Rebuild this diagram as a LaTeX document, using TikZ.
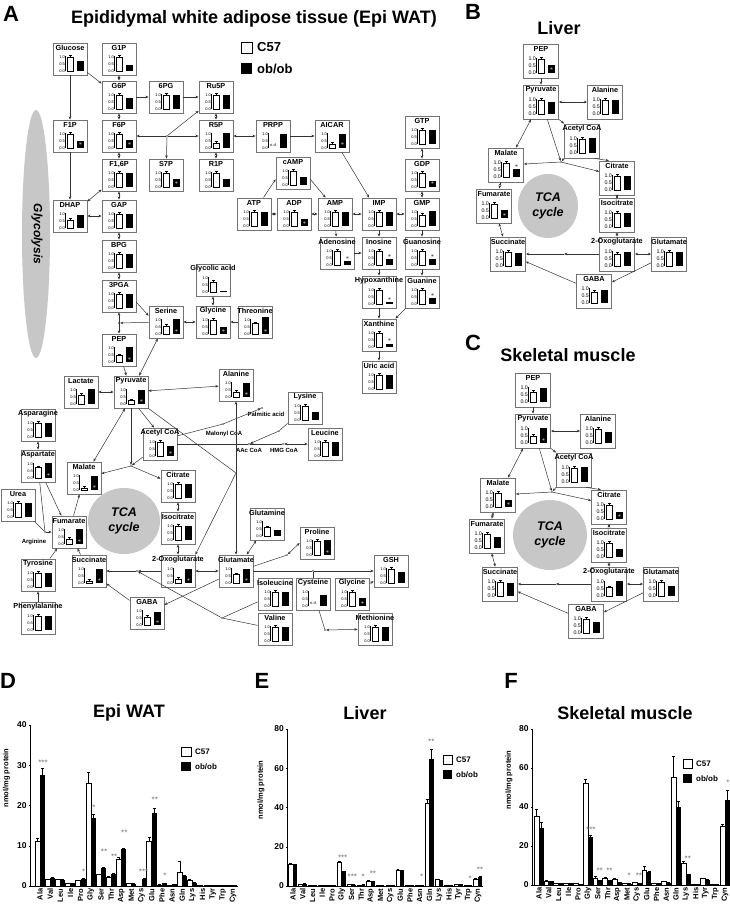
\documentclass[tikz,border=0pt]{standalone}
\usepackage{fontspec}
\setmainfont{Liberation Sans}
\usetikzlibrary{arrows.meta}

\newcommand{\tkfont}{\fontsize{4}{4}\selectfont}
% metabolite box with its small bar chart
\newcommand{\met}[7]{%
  \node[metbox] (#1) at (#2,#3) {};
  \node[metlbl] (#1l) at ([yshift=-5.5pt]#1.north) {#4};
  \begin{scope}[shift={(#1.center)}]
    \draw[axl] (-4.5,12) -- (-4.5,-3);
    \node[tk] at (-4.5,12) {0.0};
    \node[tk] at (-4.5,5) {0.5};
    \node[tk] at (-4.5,-2) {1.0};
    \ifnum#7=2\relax
      \node[tk,anchor=center] at (0.5,9.5) {n.d.};
    \else
      \draw[wbar] (-3,12) rectangle (3.5,{12-14*#5});
      \draw[axl] (0.25,{12-14*#5}) -- (0.25,{10.3-14*#5}) (-1.2,{10.3-14*#5}) -- (1.7,{10.3-14*#5});
    \fi
    \fill (7,12) rectangle (14,{12-14*#6});
    \ifnum#7=1\relax \node[wstar] at (10.5,8.6) {$\ast$};\fi
    \ifnum#7=3\relax \node[bstar] at (10.5,{9-14*#6}) {$\ast$};\fi
  \end{scope}%
}

\begin{document}
\begin{tikzpicture}[
  x=1pt, y=-1pt,
  >={Stealth[length=3.2pt,width=2.6pt]},
  metbox/.style={draw=black!55, line width=0.8pt, fill=white, minimum width=34pt, minimum height=32pt, inner sep=0pt},
  metlbl/.style={font=\bfseries\fontsize{7.3}{8}\selectfont, inner sep=0pt},
  tk/.style={font=\tkfont, inner sep=0.4pt, anchor=east},
  axl/.style={line width=0.4pt},
  wbar/.style={draw, fill=white, line width=0.6pt},
  wstar/.style={font=\fontsize{6}{6}\selectfont, text=white, inner sep=0pt},
  bstar/.style={font=\fontsize{6}{6}\selectfont, inner sep=0pt},
  link/.style={line width=0.5pt, black!80},
  ar/.style={link, ->},
  arb/.style={link, <->},
  jdot/.style={circle, fill=black!80, inner sep=0pt, minimum size=1.8pt},
  small/.style={font=\bfseries\fontsize{6}{7}\selectfont, inner sep=0.5pt},
  plet/.style={font=\bfseries\fontsize{22}{22}\selectfont, inner sep=0pt},
  ttl/.style={font=\bfseries\fontsize{18}{20}\selectfont, inner sep=0pt},
  tca/.style={font=\bfseries\itshape\fontsize{12.5}{15}\selectfont, align=center, inner sep=0pt},
  cat/.style={rotate=90, anchor=east, font=\bfseries\fontsize{7.5}{8}\selectfont, inner sep=1pt},
  ytk/.style={left, font=\bfseries\fontsize{8.5}{9}\selectfont, inner sep=2pt},
  ylab/.style={rotate=90, font=\bfseries\fontsize{7.5}{8}\selectfont, inner sep=0pt},
  stars/.style={font=\fontsize{8}{8}\selectfont, text=black!55, inner sep=0pt},
  legs/.style={right, font=\bfseries\fontsize{8}{9}\selectfont, inner sep=1pt}
]
\useasboundingbox (0,0) rectangle (730,908);

%% ---------------- A: Epi WAT map ----------------
\node[plet] (letA) at (11,14) {A};
\node[ttl] (ttlA) at (254,19) {Epididymal white adipose tissue (Epi WAT)};
\draw[wbar] (241,42) rectangle (252,53);
\fill (241,63) rectangle (252,74);
\node[right, font=\bfseries\fontsize{13}{14}\selectfont, inner sep=1pt] (legw) at (256,47.5) {C57};
\node[right, font=\bfseries\fontsize{13}{14}\selectfont, inner sep=1pt] (legb) at (256,68.5) {ob/ob};

\fill[black!22] (36,234) ellipse [x radius=14, y radius=124];
\node[rotate=-90, font=\bfseries\itshape\fontsize{12}{12}\selectfont] (glys) at (37,234) {Glycolysis};
\fill[black!22] (124,521) ellipse [x radius=36, y radius=33];
\node[tca] (tcaA) at (124,521) {TCA\\cycle};

\met{gluc}{70}{59}{Glucose}{1}{0.75}{0}
\met{gonep}{119}{59}{G1P}{1}{0.4}{0}
\met{gsixp}{119}{97}{G6P}{1}{0.8}{0}
\met{sixpg}{166}{97}{6PG}{1}{1}{0}
\met{ruvp}{216}{97}{Ru5P}{1}{1}{0}
\met{fonep}{70}{136}{F1P}{1}{0.5}{1}
\met{fsixp}{119}{136}{F6P}{1}{0.55}{1}
\met{rvp}{216}{136}{R5P}{0.35}{1.05}{0}
\met{prpp}{273}{136}{PRPP}{0}{1}{2}
\met{aicar}{332}{136}{AICAR}{0.3}{1}{1}
\met{fbp}{119}{175}{F1,6P}{1}{1}{0}
\met{sseven}{166}{175}{S7P}{1}{0.6}{1}
\met{ronep}{216}{175}{R1P}{1}{0.6}{0}
\met{gtp}{422}{132}{GTP}{1}{1}{0}
\met{camp}{293}{173}{cAMP}{1}{0.55}{0}
\met{gdp}{422}{175}{GDP}{1}{0.45}{1}
\met{dhap}{70}{216}{DHAP}{0.55}{0.9}{0}
\met{gap}{119}{216}{GAP}{1}{1}{0}
\met{atp}{254}{214}{ATP}{1}{1}{0}
\met{adp}{294}{214}{ADP}{1}{0.5}{1}
\met{amp}{335}{214}{AMP}{1}{1}{0}
\met{imp}{379}{214}{IMP}{1}{1}{0}
\met{gmp}{422}{214}{GMP}{0.8}{1.05}{0}
\met{bpg}{119}{256}{BPG}{1}{1}{0}
\met{pga}{119}{296}{3PGA}{1}{1}{0}
\met{glyc}{213}{280}{Glycolic acid}{0.7}{0.05}{0}
\met{ser}{166}{322}{Serine}{0.55}{1.1}{1}
\met{gly}{213}{322}{Glycine}{1}{0.5}{1}
\met{thr}{255}{322}{Threonine}{0.75}{1.2}{1}
\met{pep}{119}{350}{PEP}{0.45}{1.1}{1}
\met{lac}{81}{392}{Lactate}{0.65}{1.1}{0}
\met{pyr}{131}{392}{Pyruvate}{0.25}{1}{1}
\met{ala}{236}{385}{Alanine}{0.35}{1}{1}
\met{asn}{38}{425}{Asparagine}{1}{1}{0}
\met{accoa}{160}{444}{Acetyl CoA}{1}{0.7}{1}
\met{ado}{337}{253}{Adenosine}{1}{0.3}{3}
\met{ino}{379}{253}{Inosine}{1}{0.45}{3}
\met{guo}{422}{253}{Guanosine}{1}{0.45}{3}
\met{hyp}{379}{292}{Hypoxanthine}{1}{0.15}{3}
\met{gua}{422}{292}{Guanine}{1}{0.4}{3}
\met{xan}{379}{335}{Xanthine}{1}{0.25}{3}
\met{uric}{379}{377}{Uric acid}{1}{1}{0}
\met{lys}{305}{408}{Lysine}{1}{0.55}{0}
\met{leu}{325}{444}{Leucine}{1}{1}{0}
\met{asp}{38}{466}{Aspartate}{0.75}{1.05}{1}
\met{mal}{84}{478}{Malate}{0.15}{1}{1}
\met{cit}{178}{486}{Citrate}{1}{1}{0}
\met{urea}{18}{505}{Urea}{1}{1}{0}
\met{fum}{69}{532}{Fumarate}{0.35}{1.05}{1}
\met{icit}{178}{528}{Isocitrate}{1}{1}{0}
\met{suc}{89}{571}{Succinate}{0.15}{1}{1}
\met{oxo}{178}{571}{2-Oxoglutarate}{0.3}{1}{1}
\met{glu}{236}{571}{Glutamate}{0.6}{1}{1}
\met{tyr}{38}{575}{Tyrosine}{1}{1}{0}
\met{gaba}{147}{613}{GABA}{0.55}{0.9}{1}
\met{phe}{38}{618}{Phenylalanine}{1}{1}{0}
\met{gln}{267}{524}{Glutamine}{0.6}{0.4}{0}
\met{pro}{317}{543}{Proline}{1}{1.1}{1}
\met{gsh}{391}{571}{GSH}{1}{0.8}{0}
\met{ile}{275}{594}{Isoleucine}{1}{1}{0}
\met{cys}{313}{594}{Cysteine}{0}{0.8}{2}
\met{glyb}{352}{594}{Glycine}{1}{0.6}{1}
\met{val}{275}{629}{Valine}{1}{1}{0}
\met{meth}{375}{629}{Methionine}{1}{1}{0}

% branch points
\node[jdot] (jppp) at (167,136) {};
\node[jdot] (jser) at (119,323) {};
\node[jdot] (jtca) at (131,466) {};
\node[jdot] (jala) at (236,473) {};
\node[jdot] (jsuc) at (137,571) {};
\node[jdot] (jbc) at (222,618) {};
\node[jdot] (jarg) at (45,532) {};
\node[jdot] (jmcoa) at (223,424) {};
\node[jdot] (jpal) at (262,408) {};
\node[jdot] (jlys) at (279,431) {};
\node[jdot] (jaac) at (249,444) {};
\node[jdot] (jhmg) at (283,444) {};
\node[jdot] (jpro) at (287,555) {};
\node[jdot] (jgsh) at (313,571) {};
\node[jdot] (jmet) at (325,630) {};

\node[small] (palm) at (266,414) {Palmitic acid};
\node[small] (malo) at (224,434) {Malonyl CoA};
\node[small] (aac) at (249,450) {AAc CoA};
\node[small] (hmg) at (284,450) {HMG CoA};
\node[small] (argi) at (34,542) {Arginine};

% glycolysis and pentose phosphates
\draw[ar] (gluc) -- (gsixp);
\draw[ar] (gluc) -- (fonep);
\draw[arb] (gonep) -- (gsixp);
\draw[ar] (gsixp) -- (sixpg);
\draw[ar] (sixpg) -- (ruvp);
\draw[arb] (gsixp) -- (fsixp);
\draw[arb] (ruvp) -- (rvp);
\draw[ar] (jppp) -- (fsixp);
\draw[ar] (jppp) -- (rvp);
\draw[ar] (jppp) -- (sseven);
\draw[ar] (jppp) -- (ruvp);
\draw[arb] (rvp) -- (ronep);
\draw[arb] (rvp) -- (prpp);
\draw[ar] (prpp) -- (aicar);
\draw[ar] (aicar) -- (imp);
\draw[arb] (fsixp) -- (fbp);
\draw[ar] (fonep) -- (dhap);
\draw[arb] (fbp) -- (dhap);
\draw[arb] (fbp) -- (gap);
\draw[arb] (dhap) -- (gap);
\draw[arb] (gap) -- (bpg);
\draw[arb] (bpg) -- (pga);
\draw[arb] (pga) -- (pep);
\draw[ar] (ser) -- (jser);
\draw[ar] (pga.-20) -- (ser.160);
\draw[ar] (pep) -- (pyr);
\draw[arb] (ser) -- (pyr);
\draw[arb] (ser) -- (gly);
\draw[ar] (thr) -- (gly);
\draw[arb] (glyc) -- (gly);
\draw[arb] (lac) -- (pyr);
\draw[arb] (pyr) -- (ala);

% nucleotides
\draw[ar] (atp.60) -- (camp.200);
\draw[ar] (camp.-20) -- (amp.120);
\draw[arb] (atp) -- (adp);
\draw[arb] (adp) -- (amp);
\draw[arb] (amp) -- (imp);
\draw[arb] (imp) -- (gmp);
\draw[arb] (gmp) -- (gdp);
\draw[arb] (gdp) -- (gtp);
\draw[ar] (amp) -- (ado);
\draw[ar] (imp) -- (ino);
\draw[ar] (gmp) -- (guo);
\draw[ar] (ado) -- (ino);
\draw[ar] (ino) -- (hyp);
\draw[ar] (guo) -- (gua);
\draw[ar] (hyp) -- (xan);
\draw[ar] (gua) -- (xan);
\draw[ar] (xan) -- (uric);

% TCA cycle and amino acids
\draw[ar] (pyr) -- (jtca);
\draw[ar] (accoa) -- (jtca);
\draw[ar] (jtca) -- (mal);
\draw[ar] (jtca) -- (cit);
\draw[arb] (pyr.250) -- (mal.60);
\draw[ar] (pyr.-65) -- (accoa.110);
\draw[link] (pyr.south east) -- (jala);
\draw[ar] (jala) -- (oxo.north east);
\draw[arb] (ala) -- (glu);
\draw[arb] (cit) -- (icit);
\draw[arb] (icit) -- (oxo);
\draw[ar] (oxo) -- (jsuc);
\draw[ar] (jsuc) -- (suc);
\draw[ar] (jbc) -- (jsuc);
\draw[link] (ile) -- (jbc);
\draw[link] (val) -- (jbc);
\draw[arb] (oxo) -- (glu);
\draw[ar] (glu) -- (gaba);
\draw[ar] (gaba) -- (suc);
\draw[ar] (suc) -- (fum);
\draw[ar] (fum) -- (mal);
\draw[ar] (asp) -- (fum);
\draw[arb] (asp) -- (asn);
\draw[link] (asp) -- (jarg);
\draw[link] (urea) -- (jarg);
\draw[ar] (jarg) -- (fum);
\draw[ar] (tyr) -- (fum);
\draw[ar] (phe) -- (tyr);
\draw[arb] (glu) -- (gln);
\draw[arb] (glu.15) -- (jpro) -- (pro.west);
\draw[ar] (glu) -- (jgsh) -- (gsh);
\draw[link] (cys) -- (jgsh);
\draw[ar] (glyb) -- (gsh);
\draw[arb] (cys.-70) -- (jmet) -- (meth);
\draw[link] (accoa.25) -- (jmcoa);
\draw[ar] (jmcoa) -- (jpal);
\draw[arb] (accoa) -- (jaac) -- (jhmg) -- (leu);
\draw[link] (lys) -- (jlys);
\draw[ar] (jlys) -- (jaac);

%% ---------------- B: Liver ----------------
\node[plet] (letB) at (473,12) {B};
\node[ttl] (ttlB) at (559,28) {Liver};
\fill[black!22] (548,206) ellipse [x radius=30, y radius=32];
\node[tca] (tcaB) at (548,206) {TCA\\cycle};
\begin{scope}[metbox/.append style={minimum width=35pt, minimum height=34pt}]
\def\tkfont{\fontsize{5.3}{5.3}\selectfont}
\met{bpep}{541}{61}{PEP}{1}{0.55}{1}
\met{bpyr}{541}{102}{Pyruvate}{1}{0.85}{0}
\met{bala}{605}{102}{Alanine}{1}{1}{0}
\met{bacc}{582}{141}{Acetyl CoA}{1}{1.1}{0}
\met{bmal}{506}{165}{Malate}{1}{0.55}{3}
\met{bcit}{617}{178}{Citrate}{1}{1}{0}
\met{bfum}{494}{206}{Fumarate}{1}{0.6}{1}
\met{bicit}{617}{215}{Isocitrate}{1}{1}{0}
\met{bsuc}{508}{254}{Succinate}{1}{0.9}{0}
\met{boxo}{617}{254}{2-Oxoglutarate}{0.85}{1}{0}
\met{bglu}{669}{254}{Glutamate}{1}{1}{0}
\met{bgaba}{594}{291}{GABA}{0.8}{0.9}{0}
\end{scope}
\node[jdot] (bj) at (561,162) {};
\coordinate (bjs) at (564,254);
\draw[ar] (bpep) -- (bpyr);
\draw[arb] (bpyr) -- (bala);
\draw[ar] (bpyr.south east) -- (bacc.north west);
\draw[arb] (bpyr.240) -- (bmal.60);
\draw[ar] (bpyr.-70) -- (bj);
\draw[ar] (bacc.south west) -- (bj);
\draw[ar] (bj) -- (bmal);
\draw[ar] (bj) -- (bcit.160);
\draw[ar] (bacc.-55) -- (bcit.115);
\draw[arb] (bcit) -- (bicit);
\draw[arb] (bicit) -- (boxo);
\draw[ar] (boxo) -- (bjs);
\draw[ar] (bjs) -- (bsuc);
\draw[arb] (boxo) -- (bglu);
\draw[ar] (bglu) -- (bgaba);
\draw[ar] (bgaba) -- (bsuc);
\draw[arb] (bsuc) -- (bfum);
\draw[arb] (bfum) -- (bmal);

%% ---------------- C: Skeletal muscle ----------------
\node[plet] (letC) at (473,343) {C};
\node[ttl] (ttlC) at (568,355) {Skeletal muscle};
\fill[black!22] (550,535) ellipse [x radius=37, y radius=35];
\node[tca] (tcaC) at (550,535) {TCA\\cycle};
\begin{scope}[metbox/.append style={minimum width=35pt, minimum height=34pt}]
\def\tkfont{\fontsize{5.3}{5.3}\selectfont}
\met{cpep}{533}{390}{PEP}{0.7}{1}{0}
\met{cpyr}{533}{431}{Pyruvate}{0.5}{1.1}{1}
\met{cala}{598}{431}{Alanine}{1}{0.8}{0}
\met{cacc}{574}{470}{Acetyl CoA}{1}{1.1}{0}
\met{cmal}{498}{495}{Malate}{1}{0.5}{1}
\met{ccit}{609}{507}{Citrate}{1}{0.5}{1}
\met{cfum}{487}{536}{Fumarate}{1}{0.8}{0}
\met{cicit}{609}{545}{Isocitrate}{1}{0.6}{0}
\met{csuc}{500}{584}{Succinate}{1}{0.9}{0}
\met{coxo}{609}{584}{2-Oxoglutarate}{0.6}{1.1}{0}
\met{cglu}{661}{584}{Glutamate}{1}{0.75}{0}
\met{cgaba}{586}{621}{GABA}{1}{0.8}{0}
\end{scope}
\node[jdot] (cj) at (552,492) {};
\coordinate (cjs) at (556,584);
\draw[ar] (cpep) -- (cpyr);
\draw[arb] (cpyr) -- (cala);
\draw[ar] (cpyr.south east) -- (cacc.north west);
\draw[arb] (cpyr.240) -- (cmal.60);
\draw[ar] (cpyr.-70) -- (cj);
\draw[ar] (cacc.south west) -- (cj);
\draw[ar] (cj) -- (cmal);
\draw[ar] (cj) -- (ccit.160);
\draw[ar] (cacc.-55) -- (ccit.115);
\draw[arb] (ccit) -- (cicit);
\draw[arb] (cicit) -- (coxo);
\draw[ar] (coxo) -- (cjs);
\draw[ar] (cjs) -- (csuc);
\draw[arb] (coxo) -- (cglu);
\draw[ar] (cglu) -- (cgaba);
\draw[ar] (cgaba) -- (csuc);
\draw[arb] (csuc) -- (cfum);
\draw[arb] (cfum) -- (cmal);

%% ---------------- D: Epi WAT amino acids ----------------
\node[plet] (letD) at (8,681) {D};
\node[ttl] (ttlD) at (129,713) {Epi WAT};
\node[ylab] (ylabD) at (6.5,778) {nmol/mg protein};
\draw[wbar] (181,747) rectangle (191,756);
\fill (181,762) rectangle (191,771);
\node[legs] (legDw) at (194,751.5) {C57};
\node[legs] (legDb) at (194,766.5) {ob/ob};
\begin{scope}[shift={(40,886)}, x=10.16pt, y=4.03pt]
  \draw[axl] (-0.98,0) -- (-0.98,40);
  \draw[axl] (-0.98,0) -- (19.3,0);
  \foreach \t in {0,10,...,40} \draw[axl] (-0.98,\t) -- (-1.1,\t) node[ytk] {\t};
  \foreach \w/\we/\b/\be [count=\i from 0] in {11/0.8/27.5/1.7, 1.6/0.2/2/0.2, 1.7/0.1/1.6/0.1, 0.7/0.1/0.7/0.1, 1.3/0.2/1.8/0.2, 25.5/2.8/17/0.7, 2.8/0.2/4.5/0.2, 2.2/0.3/3/0.2, 6.7/0.5/9.1/0.3, 0.6/0.1/0.5/0.1, 0/0/1.8/0.2, 11/1/18/1.4, 0.3/0.1/0.7/0.1, 0.1/0/0.4/0.1, 3.4/2.7/2.5/0.3, 1.3/0.3/0.8/0.1, 0.1/0/0.1/0, 0.1/0/0.3/0, 0.2/0/0.2/0, 0.1/0/0.1/0} {
    \draw[wbar] (\i-0.49,0) rectangle (\i,\w);
    \draw[axl] (\i-0.245,\w) -- (\i-0.245,\w+\we) ++(-0.15,0) -- ++(0.3,0);
    \fill (\i,0) rectangle (\i+0.49,\b);
    \draw[axl] (\i+0.245,\b) -- (\i+0.245,\b+\be) ++(-0.15,0) -- ++(0.3,0);
  }
  \foreach \n [count=\i from 0] in {Ala,Val,Leu,Ile,Pro,Gly,Ser,Thr,Asp,Met,Cys,Glu,Phe,Asn,Gln,Lys,His,Tyr,Trp,Cyn}
    \node[cat] at ([yshift=-1.5pt]\i,0) {\n};
  \node[stars] at (0.3,30.5) {***};
  \node[stars] at (4.3,3.5) {*};
  \node[stars] at (5.3,19.4) {*};
  \node[stars] at (6.3,8.4) {**};
  \node[stars] at (7.3,7.2) {**};
  \node[stars] at (8.3,13.2) {**};
  \node[stars] at (10.2,3.5) {***};
  \node[stars] at (11.3,21.3) {**};
  \node[stars] at (12.3,2.5) {*};
\end{scope}

%% ---------------- E: Liver amino acids ----------------
\node[plet] (letE) at (262,681) {E};
\node[ttl] (ttlE) at (365,713) {Liver};
\node[ylab] (ylabE) at (261,790) {nmol/mg protein};
\draw[wbar] (443,755) rectangle (452,764);
\fill (443,770) rectangle (452,779);
\node[legs] (legEw) at (455,759.5) {C57};
\node[legs] (legEb) at (455,774.5) {ob/ob};
\begin{scope}[shift={(293,886)}, x=9.74pt, y=1.9625pt]
  \draw[axl] (-0.6,0) -- (-0.6,80);
  \draw[axl] (-0.6,0) -- (19.5,0);
  \foreach \t in {0,20,...,80} \draw[axl] (-0.6,\t) -- (-0.72,\t) node[ytk] {\t};
  \foreach \w/\we/\b/\be [count=\i from 0] in {11/0.8/10.5/0.6, 1/0.1/1.2/0.1, 0.6/0/0.5/0, 0.3/0/0.3/0, 0.3/0/0.3/0, 12/0.4/7.5/0.3, 1/0.1/0.6/0.1, 0.5/0.1/0.6/0.1, 2.5/0.3/2/0.2, 0.2/0/0.2/0, 0.3/0/0.5/0, 8/0.4/7.5/0.4, 0.4/0/0.4/0, 0.3/0/0.5/0, 42/2/64.5/5, 3.5/0.2/3/0.2, 0.3/0/0.3/0, 0.8/0/0.8/0, 0.2/0/0.2/0, 3.5/0.5/4.5/0.5} {
    \draw[wbar] (\i-0.44,0) rectangle (\i,\w);
    \draw[axl] (\i-0.22,\w) -- (\i-0.22,\w+\we) ++(-0.15,0) -- ++(0.3,0);
    \fill (\i,0) rectangle (\i+0.44,\b);
    \draw[axl] (\i+0.22,\b) -- (\i+0.22,\b+\be) ++(-0.15,0) -- ++(0.3,0);
  }
  \foreach \n [count=\i from 0] in {Ala,Val,Leu,Ile,Pro,Gly,Ser,Thr,Asp,Met,Cys,Glu,Phe,Asn,Gln,Lys,His,Tyr,Trp,Cyn}
    \node[cat] at ([yshift=-1.5pt]\i,0) {\n};
  \node[stars] at (5.1,14.6) {***};
  \node[stars] at (6.1,4.8) {***};
  \node[stars] at (7.2,4.8) {*};
  \node[stars] at (8.2,6.1) {**};
  \node[stars] at (13.2,4.8) {*};
  \node[stars] at (14.2,73.5) {**};
  \node[stars] at (18.2,3.6) {*};
  \node[stars] at (19.2,8.2) {**};
\end{scope}

%% ---------------- F: Skeletal muscle amino acids ----------------
\node[plet] (letF) at (511,681) {F};
\node[ttl] (ttlF) at (625,713) {Skeletal muscle};
\node[ylab] (ylabF) at (509,780) {nmol/mg protein};
\draw[wbar] (683,759) rectangle (692,768);
\fill (683,774) rectangle (692,783);
\node[legs] (legFw) at (695,763.5) {C57};
\node[legs] (legFb) at (695,778.5) {ob/ob};
\begin{scope}[shift={(539,885)}, x=9.79pt, y=1.95pt]
  \draw[axl] (-0.72,0) -- (-0.72,80);
  \draw[axl] (-0.72,0) -- (19.6,0);
  \foreach \t in {0,20,...,80} \draw[axl] (-0.72,\t) -- (-0.84,\t) node[ytk] {\t};
  \foreach \w/\we/\b/\be [count=\i from 0] in {35/4/29/3, 2/0.3/2/0.2, 0.8/0/0.8/0, 1/0.1/0.8/0, 0.7/0/0.5/0, 52/2.5/24.5/1, 3.5/0.8/2.5/0.2, 3.5/0.6/2.5/0.2, 2.7/0.7/1.3/0.1, 1/0.1/0.7/0, 1.2/0.2/0.8/0, 7.5/2/6.8/0.3, 1/0.1/1/0.1, 1.8/0.3/1.2/0.1, 55/11/40/3, 11/1/5.5/0.3, 0.3/0/0.3/0, 3.3/0.4/2.8/0.2, 0.3/0/0.2/0, 30/1/43.5/5} {
    \draw[wbar] (\i-0.49,0) rectangle (\i,\w);
    \draw[axl] (\i-0.245,\w) -- (\i-0.245,\w+\we) ++(-0.15,0) -- ++(0.3,0);
    \fill (\i,0) rectangle (\i+0.49,\b);
    \draw[axl] (\i+0.245,\b) -- (\i+0.245,\b+\be) ++(-0.15,0) -- ++(0.3,0);
  }
  \foreach \n [count=\i from 0] in {Ala,Val,Leu,Ile,Pro,Gly,Ser,Thr,Asp,Met,Cys,Glu,Phe,Asn,Gln,Lys,His,Tyr,Trp,Cyn}
    \node[cat] at ([yshift=-1.5pt]\i,0) {\n};
  \node[stars] at (5.3,28.5) {***};
  \node[stars] at (6.2,7.2) {**};
  \node[stars] at (7.2,7.2) {**};
  \node[stars] at (9.2,4.8) {*};
  \node[stars] at (10.2,4.8) {**};
  \node[stars] at (15.2,13.7) {**};
  \node[stars] at (19.3,52.6) {*};
\end{scope}
\end{tikzpicture}
\end{document}
